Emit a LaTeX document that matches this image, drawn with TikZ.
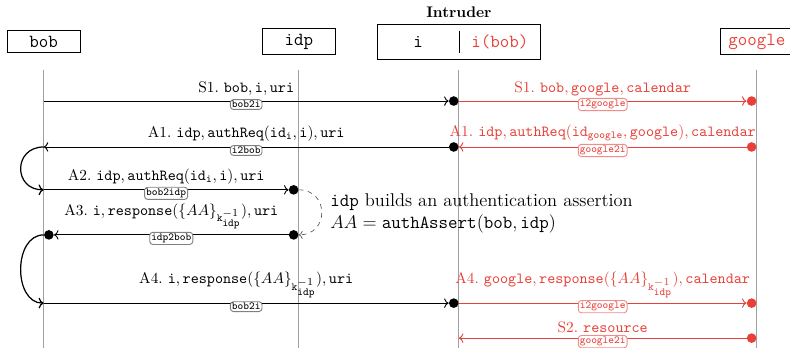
\documentclass[tikz,border=0pt]{standalone}
\usepackage{amsmath,amssymb}
\usepackage{xcolor}
\usepackage{tikz}
\usetikzlibrary{arrows,positioning,calc,arrows.meta}

\definecolor{atk}{RGB}{232,64,56}
\definecolor{lifegray}{RGB}{160,160,160}
\newcommand{\ttm}[1]{\mathtt{#1}}
\newcommand{\kinv}{\ttm{k}^{\scriptstyle -1}_{\scriptstyle\ttm{idp}}}

\tikzset{
    party/.style={draw, semithick, font=\large\ttfamily, minimum width=1.66cm},
    lifeline/.style={draw=lifegray, line width=0.5pt},
    msg/.style={->, semithick},
    atkmsg/.style={->, semithick, color=atk},
    evdot/.style={circle, fill, inner sep=0pt, minimum size=0.22cm},
    msgtag/.style={draw=gray, fill=white, rounded corners=2pt, inner sep=1pt, font=\scriptsize\ttfamily, yshift=-0.08cm},
    atktag/.style={msgtag, draw=atk!60, text=atk},
    bounce/.style={->, thick, distance=0.7cm},
}

\begin{document}
\begin{tikzpicture}
    \useasboundingbox (0,0) rectangle (18.06,-7.95);

    % participants
    \node[party] (bob) at (1.0,-0.95) {bob};
    \node[party] (idp) at (6.83,-0.95) {idp};
    \node[draw, semithick, minimum width=3.73cm, minimum height=0.8cm] (intr) at (10.49,-0.95) {};
    \node[font=\large\ttfamily] (intr-i) at (9.56,-0.95) {i};
    \node[font=\large\ttfamily, text=atk] (intr-ib) at (11.43,-0.95) {i(bob)};
    \draw ([yshift=-0.16cm]intr.north) -- ([yshift=0.16cm]intr.south);
    \node[font=\bfseries] (intr-lbl) at (10.49,-0.27) {Intruder};
    \node[party, text=atk] (google) at (17.3,-0.95) {google};

    % lifelines and message levels
    \foreach \n/\x in {bob/1.0, idp/6.83, i/10.49, google/17.3} {
        \coordinate (\n-top) at (\x,-1.6);
        \coordinate (\n-bot) at (\x,-7.95);
        \draw[lifeline] (\n-top) -- (\n-bot);
        \foreach \m/\y in {S1/-2.31, A1/-3.36, A2/-4.34, A3/-5.37, A4/-6.93, S2/-7.73}
            \coordinate (\n-\m) at (\x,\y);
    }

    % S1
    \node[evdot, left=0pt of i-S1] (dS1i) {};
    \node[evdot, fill=atk, left=0pt of google-S1] (dS1g) {};
    \draw[msg] (bob-S1) -- node[above] (lS1) {S1.~$\ttm{bob}, \ttm{i}, \ttm{uri}$}
        node[msgtag] (tS1) {bob2i} (dS1i);
    \draw[atkmsg] (i-S1) -- node[above] (lS1r) {S1.~$\ttm{bob}, \ttm{google}, \ttm{calendar}$}
        node[atktag] (tS1r) {i2google} (dS1g);

    % A1
    \node[evdot, left=0pt of i-A1] (dA1i) {};
    \node[evdot, fill=atk, left=0pt of google-A1] (dA1g) {};
    \draw[msg] (dA1i) -- node[above] (lA1) {A1.~$\ttm{idp}, \ttm{authReq}(\ttm{id}_{\ttm{i}}, \ttm{i}), \ttm{uri}$}
        node[msgtag] (tA1) {i2bob} (bob-A1);
    \draw[atkmsg] (dA1g) -- node[above] (lA1r) {A1.~$\ttm{idp}, \ttm{authReq}(\ttm{id}_{\ttm{google}}, \ttm{google}), \ttm{calendar}$}
        node[atktag] (tA1r) {google2i} (i-A1);

    % A2
    \node[evdot, left=0pt of idp-A2] (dA2p) {};
    \draw[bounce] (bob-A1) to[out=180, in=180] (bob-A2);
    \draw[msg] (bob-A2) -- node[above] (lA2) {A2.~$\ttm{idp}, \ttm{authReq}(\ttm{id}_{\ttm{i}}, \ttm{i}), \ttm{uri}$}
        node[msgtag] (tA2) {bob2idp} (dA2p);

    % assertion at the idp
    \draw[->, dashed, black!70, distance=0.7cm] (idp-A2) to[out=0, in=0] (idp-A3);
    \node[anchor=west, align=left, font=\large] (note) at (7.43,-4.88)
        {$\ttm{idp}$ builds an authentication assertion\\
         $AA = \ttm{authAssert}(\ttm{bob}, \ttm{idp})$};

    % A3
    \node[evdot, left=0pt of idp-A3] (dA3p) {};
    \node[evdot, right=0pt of bob-A3] (dA3b) {};
    \draw[msg] (dA3p) -- node[above] (lA3) {A3.~$\ttm{i}, \ttm{response}(\{AA\}_{\kinv}), \ttm{uri}$}
        node[msgtag] (tA3) {idp2bob} (dA3b);

    % A4
    \node[evdot, left=0pt of i-A4] (dA4i) {};
    \node[evdot, fill=atk, left=0pt of google-A4] (dA4g) {};
    \draw[bounce] (bob-A3) to[out=180, in=180] (bob-A4);
    \draw[msg] (bob-A4) -- node[above] (lA4) {A4.~$\ttm{i}, \ttm{response}(\{AA\}_{\kinv}), \ttm{uri}$}
        node[msgtag] (tA4) {bob2i} (dA4i);
    \draw[atkmsg] (i-A4) -- node[above] (lA4r) {A4.~$\ttm{google}, \ttm{response}(\{AA\}_{\kinv}), \ttm{calendar}$}
        node[atktag] (tA4r) {i2google} (dA4g);

    % S2
    \node[evdot, fill=atk, left=0pt of google-S2] (dS2g) {};
    \draw[atkmsg] (dS2g) -- node[above] (lS2) {S2.~$\ttm{resource}$}
        node[atktag] (tS2) {google2i} (i-S2);
\end{tikzpicture}
\end{document}
